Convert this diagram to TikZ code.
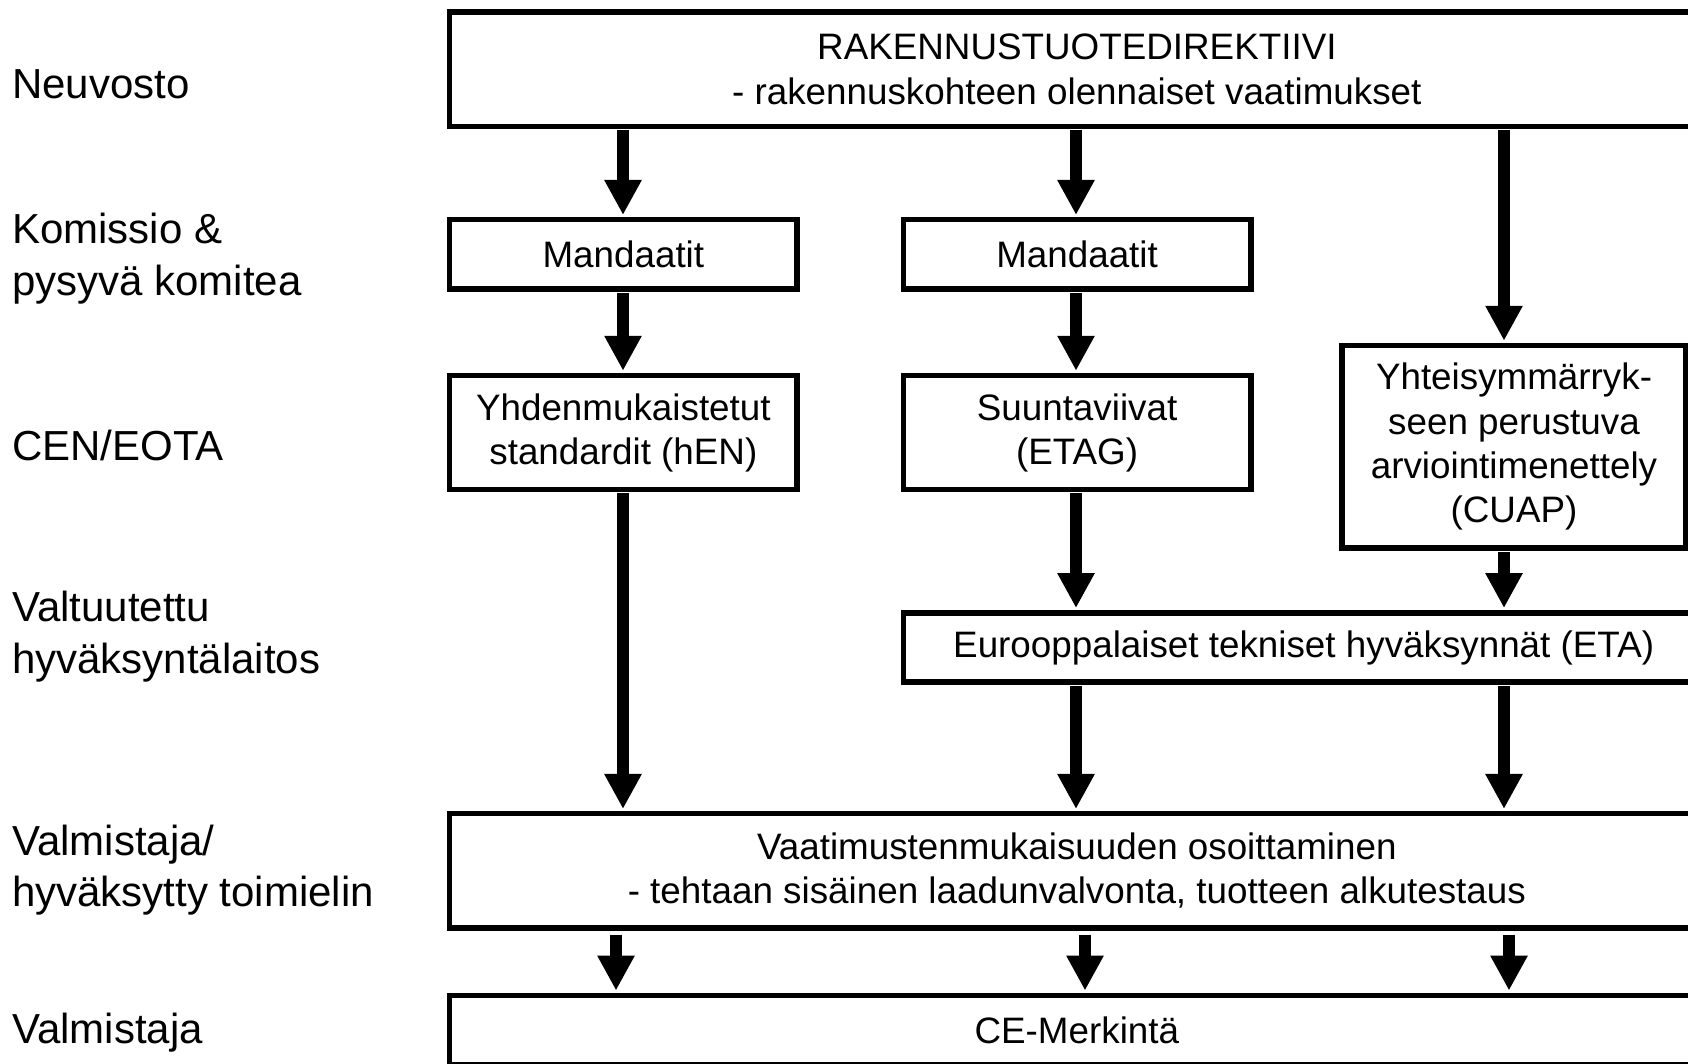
\documentclass[tikz,border=0pt]{standalone}
\usepackage{fontspec}
\setmainfont{Liberation Sans}
\usetikzlibrary{arrows.meta}

\begin{document}
\begin{tikzpicture}[x=1pt,y=-1pt]
            \tikzstyle{box}=[draw, line width=5.5pt, inner sep=0pt, align=center, font=\fontsize{36.8}{44.2}\selectfont]
            \tikzstyle{lbl}=[anchor=base west, inner sep=0pt, align=left, font=\fontsize{42}{51.6}\selectfont]
            \tikzstyle{arr}=[-{Triangle[width=35pt,length=35pt]}, line width=11.5pt, shorten >=2pt, shorten <=1pt]

            \useasboundingbox (0,0) rectangle (1688,1063);

            \node[lbl] (neuvosto) at (12,98.3) {Neuvosto};
            \node[lbl] (komissio) at (12,295) {Komissio \&\\pysyvä komitea};
            \node[lbl] (cen) at (12,460) {CEN/EOTA};
            \node[lbl] (valtuutettu) at (12,673.3) {Valtuutettu\\hyväksyntälaitos};
            \node[lbl] (valmhyv) at (12,906.7) {Valmistaja/\\hyväksytty toimielin};
            \node[lbl] (valm) at (12,1043.3) {Valmistaja};

            \node[box, minimum width=1254.3pt, minimum height=114.5pt] (top) at (1076.85,69.25)
                {RAKENNUSTUOTEDIREKTIIVI\\- rakennuskohteen olennaiset vaatimukset};
            \node[box, minimum width=347.3pt, minimum height=69.3pt] (m1) at (623.35,254.35) {Mandaatit};
            \node[box, minimum width=347.5pt, minimum height=69.3pt] (m2) at (1077.05,254.35) {Mandaatit};
            \node[box, minimum width=347.3pt, minimum height=114.2pt] (hen) at (623.35,432.6)
                {Yhdenmukaistetut\\standardit (hEN)};
            \node[box, minimum width=347.5pt, minimum height=114.2pt] (etag) at (1077.05,432.6)
                {Suuntaviivat\\(ETAG)};
            \node[box, minimum width=344pt, minimum height=202.5pt] (cuap) at (1514,446.75)
                {Yhteisymmärryk-\\seen perustuva\\arviointimenettely\\(CUAP)};
            \node[box, minimum width=800.7pt, minimum height=69.4pt] (eta) at (1303.65,647.5)
                {Eurooppalaiset tekniset hyväksynnät (ETA)};
            \node[box, minimum width=1254.3pt, minimum height=114.3pt] (vaat) at (1076.85,870.85)
                {Vaatimustenmukaisuuden osoittaminen\\- tehtaan sisäinen laadunvalvonta, tuotteen alkutestaus};
            \node[box, minimum width=1254.3pt, minimum height=69.4pt] (ce) at (1076.85,1030) {CE-Merkintä};

            \coordinate (c1) at (623,0);
            \coordinate (c2) at (1076,0);
            \coordinate (c3) at (1504,0);
            \coordinate (d1) at (616,0);
            \coordinate (d2) at (1085,0);
            \coordinate (d3) at (1509,0);

            \draw[arr] (top.south -| c1) -- (m1.north -| c1);
            \draw[arr] (m1.south -| c1) -- (hen.north -| c1);
            \draw[arr] (hen.south -| c1) -- (vaat.north -| c1);
            \draw[arr] (top.south -| c2) -- (m2.north -| c2);
            \draw[arr] (m2.south -| c2) -- (etag.north -| c2);
            \draw[arr] (etag.south -| c2) -- (eta.north -| c2);
            \draw[arr] (eta.south -| c2) -- (vaat.north -| c2);
            \draw[arr] (top.south -| c3) -- (cuap.north -| c3);
            \draw[arr] (cuap.south -| c3) -- (eta.north -| c3);
            \draw[arr] (eta.south -| c3) -- (vaat.north -| c3);
            \foreach \c in {d1,d2,d3}
                \draw[arr, shorten <=4pt] (vaat.south -| \c) -- (ce.north -| \c);
\end{tikzpicture}
\end{document}
